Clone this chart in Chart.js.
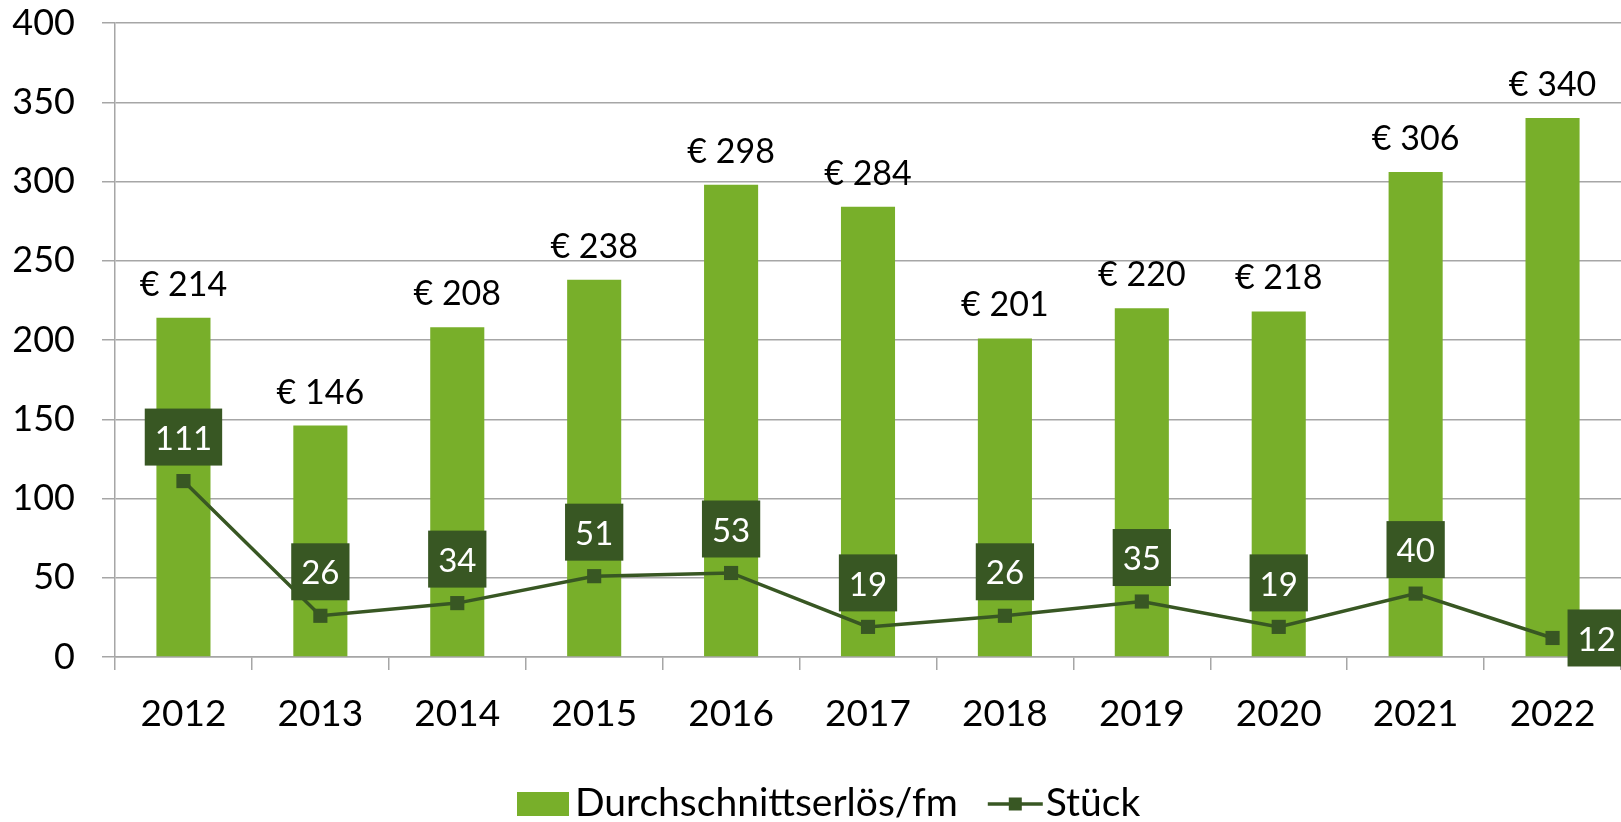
<!DOCTYPE html>
<html>
<head>
<meta charset="utf-8">
<script src="https://cdn.jsdelivr.net/npm/chart.js@4/dist/chart.umd.min.js"></script>
<style>
  html, body { margin: 0; padding: 0; background: #fff; }
  #wrap { width: 1621px; height: 822px; }
</style>
</head>
<body>
<div id="wrap"><canvas id="erloesChart" width="1621" height="822"></canvas></div>
<script>
const years = ["2012", "2013", "2014", "2015", "2016", "2017", "2018", "2019", "2020", "2021", "2022"];
const avgRevenue = [214, 146, 208, 238, 298, 284, 201, 220, 218, 306, 340];
const pieces = [111, 26, 34, 51, 53, 19, 26, 35, 19, 40, 12];
const yTicks = [0, 50, 100, 150, 200, 250, 300, 350, 400];

const barGreen = "#78AF2A";
const darkGreen = "#385723";
const FONT = "Lato";

// labels for bars (€ ...) and boxed labels for the Stück line
const valueLabels = {
  id: "valueLabels",
  afterDatasetsDraw(chart) {
    const ctx = chart.ctx;
    ctx.save();

    const barMeta = chart.getDatasetMeta(0);
    ctx.font = `34px ${FONT}`;
    ctx.fillStyle = "#000";
    ctx.textAlign = "center";
    ctx.textBaseline = "alphabetic";
    barMeta.data.forEach((bar, i) => {
      ctx.fillText("€ " + avgRevenue[i], bar.x, bar.y - 22);
    });

    const lineMeta = chart.getDatasetMeta(1);
    const last = lineMeta.data.length - 1;
    ctx.font = `33px ${FONT}`;
    ctx.textBaseline = "middle";
    lineMeta.data.forEach((pt, i) => {
      const txt = String(pieces[i]);
      const w = ctx.measureText(txt).width + 20;
      const h = 57;
      let cx = pt.x, cy = pt.y - 44;
      if (i === last) { cx = pt.x + 15 + w / 2; cy = pt.y; }
      ctx.fillStyle = darkGreen;
      ctx.fillRect(cx - w / 2, cy - h / 2, w, h);
      ctx.fillStyle = "#fff";
      ctx.fillText(txt, cx, cy + 2);
    });
    ctx.restore();
  },
  afterDraw(chart) {
    // legend drawn by hand so the line entry shows line + marker
    const ctx = chart.ctx;
    ctx.save();
    ctx.font = `39px ${FONT}`;
    ctx.textBaseline = "alphabetic";
    ctx.textAlign = "left";
    let x = 517;
    const midY = 804;
    ctx.fillStyle = barGreen;
    ctx.fillRect(x, 792, 52, 24);
    x += 58;
    ctx.fillStyle = "#000";
    const t1 = chart.data.datasets[0].label;
    ctx.fillText(t1, x, 816);
    x += ctx.measureText(t1).width + 30;
    ctx.strokeStyle = darkGreen;
    ctx.lineWidth = 3.5;
    ctx.beginPath();
    ctx.moveTo(x, midY);
    ctx.lineTo(x + 55, midY);
    ctx.stroke();
    ctx.fillStyle = darkGreen;
    ctx.fillRect(x + 21, midY - 6.5, 13, 13);
    x += 58;
    ctx.fillStyle = "#000";
    ctx.fillText(chart.data.datasets[1].label, x, 816);
    ctx.restore();
  }
};

new Chart(document.getElementById("erloesChart"), {
  data: {
    labels: years,
    datasets: [
      {
        type: "bar",
        label: "Durchschnittserlös/fm",
        data: avgRevenue,
        backgroundColor: barGreen,
        categoryPercentage: 1,
        barPercentage: 0.395,
        order: 1,
      },
      {
        type: "line",
        label: "Stück",
        data: pieces,
        borderColor: darkGreen,
        borderWidth: 3.5,
        tension: 0,
        pointStyle: "rect",
        pointRadius: 10,
        pointBackgroundColor: darkGreen,
        pointBorderColor: darkGreen,
        pointBorderWidth: 0,
        order: 0,
      },
    ],
  },
  options: {
    responsive: false,
    animation: false,
    events: [],
    layout: { autoPadding: false, padding: { top: 23, right: 0, bottom: 75, left: 0 } },
    plugins: {
      legend: { display: false },
      tooltip: { enabled: false },
      title: { display: false },
    },
    scales: {
      x: {
        grid: {
          display: true,
          drawOnChartArea: false,
          offset: true,
          tickLength: 13,
          color: "#A6A6A6",
          lineWidth: 1.5,
        },
        border: { display: true, color: "#A6A6A6", width: 1.5 },
        ticks: { font: { family: FONT, size: 37 }, color: "#000", padding: 22 },
        afterFit(scale) {
          scale.height = 90;
          scale.paddingLeft = 0;
          scale.paddingRight = 0;
        },
      },
      y: {
        min: 0,
        max: 400,
        afterBuildTicks(scale) { scale.ticks = yTicks.map(v => ({ value: v })); },
        grid: { color: "#A6A6A6", lineWidth: 1.5, tickLength: 13 },
        border: { display: true, color: "#A6A6A6", width: 1.5 },
        ticks: { font: { family: FONT, size: 36 }, color: "#000", padding: 27 },
        afterFit(scale) {
          scale.width = 115;
          scale.paddingTop = 0;
          scale.paddingBottom = 0;
        },
      },
    },
  },
  plugins: [valueLabels],
});
</script>
</body>
</html>
